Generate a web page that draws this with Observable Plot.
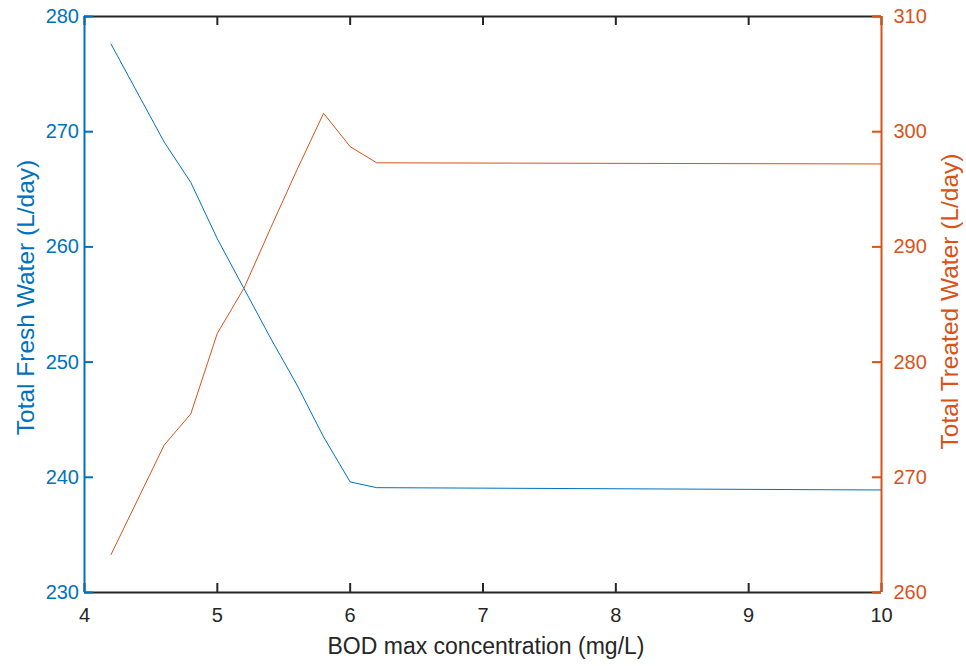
<!DOCTYPE html>
<html><head><meta charset="utf-8">
<script src="https://cdn.jsdelivr.net/npm/d3@7"></script>
<script src="https://cdn.jsdelivr.net/npm/@observablehq/plot@0.6"></script>
<style>html,body{margin:0;padding:0;background:#fff;overflow:hidden}</style>
</head><body><div id="chart"></div>
<script>
// ---- data ----
const bod = [4.2, 4.6, 4.8, 5.0, 5.2, 5.4, 5.6, 5.8, 6.0, 6.2, 10];
const freshWater = [277.6, 269.1, 265.6, 260.7, 256.4, 252.1, 248.0, 243.5, 239.6, 239.1, 238.9];
const treatedWater = [263.3, 272.8, 275.5, 282.5, 286.4, 291.6, 296.7, 301.6, 298.7, 297.3, 297.2];
const xTicks = [4, 5, 6, 7, 8, 9, 10];
const leftTicks = [230, 240, 250, 260, 270, 280];
const rightTicks = [260, 270, 280, 290, 300, 310];
const xDomain = [4, 10];
const leftDomain = [230, 280];
const rightDomain = [260, 310];
const xTitle = "BOD max concentration (mg/L)";
const leftTitle = "Total Fresh Water (L/day)";
const rightTitle = "Total Treated Water (L/day)";

// ---- styling ----
const BLUE = "#0072BD", ORANGE = "#D95319", DARK = "#262626";
const W = 966, H = 666, mL = 84, mR = 85, mT = 16, mB = 74;
const frameW = W - mL - mR, frameH = H - mT - mB;
const TICK = 9;
const FONT = "'Liberation Sans', Arial, Helvetica, sans-serif";

// map right-axis values onto the left scale
const k = (leftDomain[1] - leftDomain[0]) / (rightDomain[1] - rightDomain[0]);
const toLeft = v => leftDomain[0] + (v - rightDomain[0]) * k;
const fromLeft = v => rightDomain[0] + (v - leftDomain[0]) / k;

const fresh = bod.map((x, i) => ({x, y: freshWater[i]}));
const treated = bod.map((x, i) => ({x, y: toLeft(treatedWater[i])}));

const chart = Plot.plot({
  width: W, height: H,
  marginLeft: mL, marginRight: mR, marginTop: mT, marginBottom: mB,
  style: {fontFamily: FONT, background: "#fff", overflow: "visible"},
  x: {domain: xDomain},
  y: {domain: leftDomain},
  marks: [
    Plot.line(fresh, {x: "x", y: "y", stroke: BLUE, strokeWidth: 1}),
    Plot.line(treated, {x: "x", y: "y", stroke: ORANGE, strokeWidth: 1}),
    // box
    Plot.ruleY([leftDomain[0]], {stroke: DARK, strokeWidth: 2}),
    Plot.ruleY([leftDomain[1]], {stroke: DARK, strokeWidth: 2}),
    // x ticks (inward), bottom and top
    Plot.tickX(xTicks, {x: d => d, stroke: DARK, strokeWidth: 2, insetTop: frameH - TICK}),
    Plot.tickX(xTicks, {x: d => d, stroke: DARK, strokeWidth: 2, insetBottom: frameH - TICK}),
    Plot.ruleX([xDomain[0]], {stroke: BLUE, strokeWidth: 2}),
    Plot.ruleX([xDomain[1]], {stroke: ORANGE, strokeWidth: 2}),
    // y ticks (inward)
    Plot.tickY(leftTicks, {y: d => d, stroke: BLUE, strokeWidth: 2, insetRight: frameW - TICK}),
    Plot.tickY(rightTicks.map(toLeft), {y: d => d, stroke: ORANGE, strokeWidth: 2, insetLeft: frameW - TICK}),
    // tick labels
    Plot.axisX({ticks: xTicks, tickFormat: d => String(d), tickSize: 0, tickPadding: 15.5, fontSize: 20, color: DARK, label: null}),
    Plot.axisY({anchor: "left", ticks: leftTicks, tickFormat: d => String(d), tickSize: 0, tickPadding: 5.5, fontSize: 20, color: BLUE, label: null}),
    Plot.axisY({anchor: "right", ticks: rightTicks.map(toLeft), tickFormat: d => String(Math.round(fromLeft(d))),
      tickSize: 0, tickPadding: 12, fontSize: 20, color: ORANGE, label: null}),
    // titles
    Plot.text([xTitle], {frameAnchor: "bottom", textAnchor: "middle", lineAnchor: "middle", dx: 3, dy: 54, fontSize: 23, fill: DARK}),
    Plot.text([leftTitle], {frameAnchor: "left", textAnchor: "middle", lineAnchor: "middle", rotate: -90, dx: -58.5, dy: -7, fontSize: 24.5, fill: BLUE}),
    Plot.text([rightTitle], {frameAnchor: "right", textAnchor: "middle", lineAnchor: "middle", rotate: -90, dx: 69, dy: -3, fontSize: 24.5, fill: ORANGE})
  ]
});
document.getElementById("chart").appendChild(chart);
</script>
</body></html>
